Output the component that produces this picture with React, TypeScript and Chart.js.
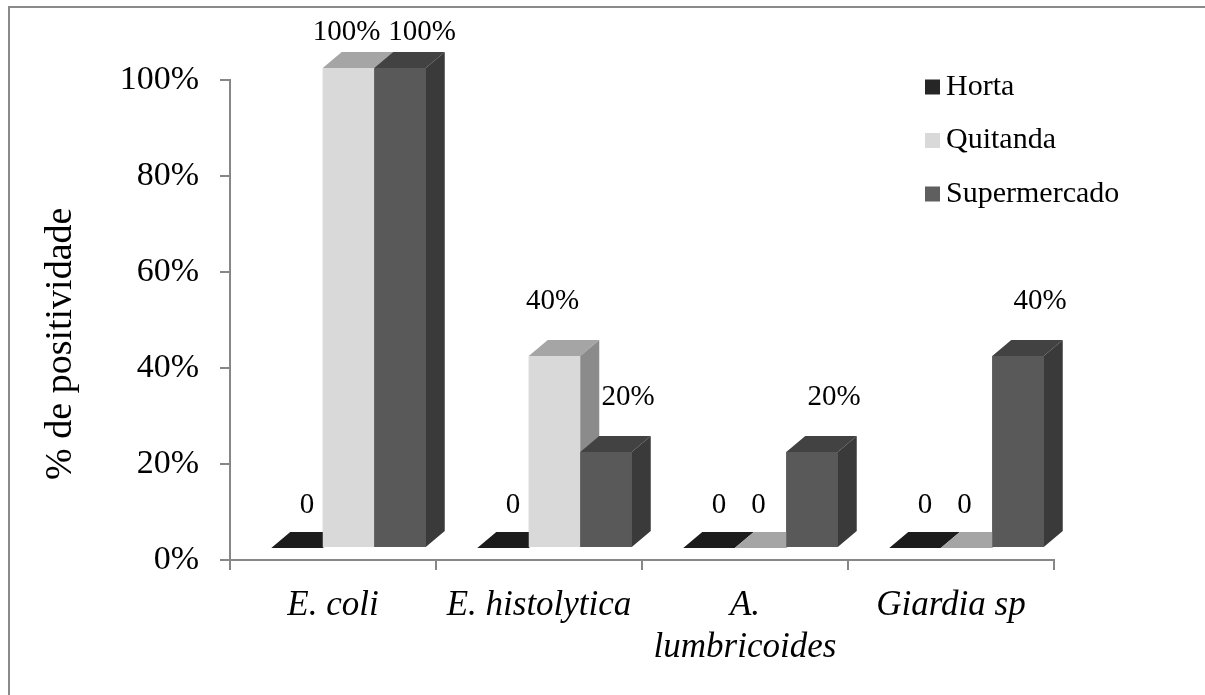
import React, { useEffect, useRef } from "react";
import { Chart, registerables } from "chart.js";

Chart.register(...registerables);

// ---- data ----
const categories: string[][] = [["E. coli"], ["E. histolytica"], ["A.", "lumbricoides"], ["Giardia sp"]];
const seriesNames = ["Horta", "Quitanda", "Supermercado"];
const hortaValues = [0, 0, 0, 0];
const quitandaValues = [100, 40, 0, 0];
const supermercadoValues = [100, 20, 20, 40];
const yTickMin = 0;
const yTickMax = 100;
const yTickStep = 20;
const yAxisTitle = "% de positividade";

// ---- styles ----
const FONT = "'Liberation Serif', 'Times New Roman', serif";
const AXIS_GRAY = "#878787";
const SHIFT_X = 15.5; // front face offset (3D floor)
const LIFT = 12;
const DEPTH_X = 19;
const DEPTH_Y = 16;

const seriesStyles = [
  { front: "#1f1f1f", top: "#1c1c1c", side: "#161616", legend: "#262626", labelShift: 10 },
  { front: "#d9d9d9", top: "#a5a5a5", side: "#8b8b8b", legend: "#d9d9d9", labelShift: -2 },
  { front: "#595959", top: "#424242", side: "#3a3a3a", legend: "#5f5f5f", labelShift: 22 },
];

const bars3d = {
  id: "bars3d",
  beforeDatasetsDraw(chart: any) {
    chart.ctx.save();
    chart.ctx.translate(SHIFT_X, -LIFT);
  },
  afterDatasetsDraw(chart: any) {
    const ctx = chart.ctx;
    // Chart.js paints datasets last-to-first; repaint every face in series order
    chart.data.datasets.forEach((_ds: any, di: number) => {
      const st = seriesStyles[di];
      chart.getDatasetMeta(di).data.forEach((el: any) => {
        const { x, y, base, width } = el.getProps(["x", "y", "base", "width"], true);
        const left = x - width / 2;
        const right = x + width / 2;
        if (base - y > 0.5) {
          ctx.fillStyle = st.front;
          ctx.fillRect(left, y, width, base - y);
        }
        ctx.fillStyle = st.top;
        ctx.beginPath();
        ctx.moveTo(left, y);
        ctx.lineTo(left + DEPTH_X, y - DEPTH_Y);
        ctx.lineTo(right + DEPTH_X, y - DEPTH_Y);
        ctx.lineTo(right, y);
        ctx.closePath();
        ctx.fill();
        if (base - y > 0.5) {
          ctx.fillStyle = st.side;
          ctx.beginPath();
          ctx.moveTo(right, y);
          ctx.lineTo(right + DEPTH_X, y - DEPTH_Y);
          ctx.lineTo(right + DEPTH_X, base - DEPTH_Y);
          ctx.lineTo(right, base);
          ctx.closePath();
          ctx.fill();
        }
      });
    });
    ctx.restore();

    ctx.save();
    ctx.font = `29px ${FONT}`;
    ctx.fillStyle = "#000";
    ctx.textAlign = "center";
    ctx.textBaseline = "middle";
    chart.data.datasets.forEach((ds: any, di: number) => {
      const meta = chart.getDatasetMeta(di);
      meta.data.forEach((el: any, i: number) => {
        const v = ds.data[i];
        const { x, y } = el.getProps(["x", "y"], true);
        const topBack = y - LIFT - DEPTH_Y;
        let cy = topBack - (v > 0 ? 39 : 27);
        cy = Math.max(cy, chart.chartArea.top - 48);
        const cx = x + SHIFT_X + seriesStyles[di].labelShift;
        ctx.fillText(v === 0 ? "0" : `${v}%`, cx, cy);
      });
    });
    ctx.restore();
  },
  afterDraw(chart: any) {
    const ctx = chart.ctx;
    const { right, top } = chart.chartArea;
    ctx.save();
    ctx.font = `30px ${FONT}`;
    ctx.textBaseline = "middle";
    ctx.textAlign = "left";
    chart.data.datasets.forEach((ds: any, di: number) => {
      const cy = top + 7 + di * 53.5;
      const bx = right - 129;
      ctx.fillStyle = seriesStyles[di].legend;
      ctx.fillRect(bx, cy - 7.5, 15, 15);
      ctx.fillStyle = "#000";
      ctx.fillText(ds.label, bx + 21, cy);
    });
    ctx.restore();
  },
};

export default function App() {
  const ref = useRef<HTMLCanvasElement | null>(null);
  useEffect(() => {
    if (!ref.current) return;
    Chart.defaults.font.family = FONT;
    const values = [hortaValues, quitandaValues, supermercadoValues];
    const chart = new Chart(ref.current, {
      type: "bar",
      data: {
        labels: categories,
        datasets: seriesNames.map((name, i) => ({
          label: name,
          data: values[i],
          backgroundColor: seriesStyles[i].front,
          borderWidth: 0,
          categoryPercentage: 0.75,
          barPercentage: 1,
          clip: false as any,
        })),
      },
      options: {
        responsive: false,
        animation: false,
        events: [],
        layout: { padding: { left: 0, top: 72, right: 151, bottom: 35 } },
        plugins: { legend: { display: false }, tooltip: { enabled: false } },
        scales: {
          x: {
            afterFit: (s: any) => {
              s.height = 100;
            },
            grid: {
              offset: true,
              drawOnChartArea: false,
              drawTicks: true,
              tickLength: 10,
              color: AXIS_GRAY,
              lineWidth: 2,
            },
            border: { display: true, color: AXIS_GRAY, width: 2 },
            ticks: {
              color: "#000",
              font: { family: FONT, size: 35, style: "italic", lineHeight: 1.2 },
              padding: 15,
              maxRotation: 0,
              autoSkip: false,
            },
          },
          y: {
            min: yTickMin,
            max: yTickMax,
            afterFit: (s: any) => {
              s.width = 220;
            },
            grid: {
              drawOnChartArea: false,
              drawTicks: true,
              tickLength: 10,
              color: AXIS_GRAY,
              lineWidth: 2,
            },
            border: { display: true, color: AXIS_GRAY, width: 2 },
            ticks: {
              stepSize: yTickStep,
              color: "#000",
              font: { family: FONT, size: 34 },
              padding: 21,
              callback: (v: any) => `${v}%`,
            },
            title: {
              display: true,
              text: yAxisTitle + "     ",
              color: "#000",
              font: { family: FONT, size: 38, lineHeight: 1.2 },
              padding: { top: 28, bottom: 0 },
            },
          },
        },
      },
      plugins: [bars3d],
    });
    return () => chart.destroy();
  }, []);

  return (
    <div
      style={{
        position: "absolute",
        left: 8,
        top: 6,
        width: 1195,
        height: 687,
        borderTop: "2px solid #8a8a8a",
        borderLeft: "2px solid #8a8a8a",
        background: "#fff",
      }}
    >
      <canvas ref={ref} width={1195} height={687} style={{ display: "block" }} />
    </div>
  );
}
